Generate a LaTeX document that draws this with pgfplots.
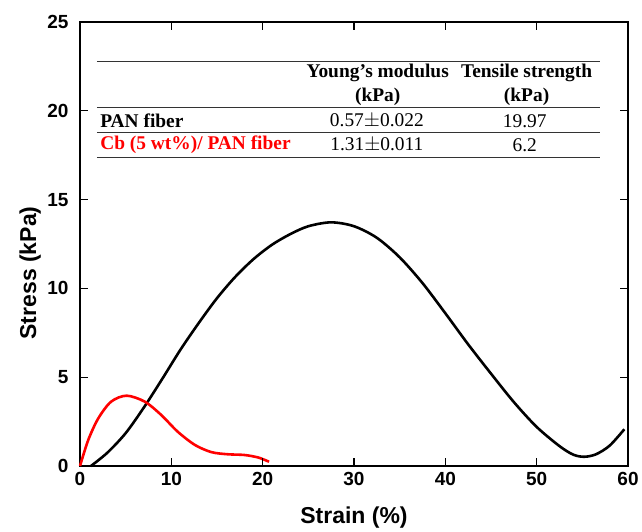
\documentclass[border=0pt]{standalone}
\usepackage{fontspec}
\usepackage{pgfplots}
\pgfplotsset{compat=1.18}
\setmainfont{Liberation Serif}
\newfontfamily\arial{Liberation Sans}
\definecolor{pureRed}{RGB}{255,0,0}

\begin{document}
\begin{tikzpicture}
\begin{axis}[
    width=548pt, height=444pt, scale only axis,
    xmin=0, xmax=60, ymin=0, ymax=25,
    xtick={0,10,20,30,40,50,60}, ytick={0,5,10,15,20,25},
    xticklabels={0,10,20,30,40,50,60},
    yticklabels={0,5,10,15,20,25},
    tick align=inside,
    major tick length=8pt,
    tick style={draw=black, line width=1.4pt},
    clip=false,
    ticklabel style={font=\arial\bfseries\fontsize{19}{19}\selectfont},
    xticklabel style={yshift=-3pt},
    yticklabel style={xshift=-8pt},
    label style={font=\arial\bfseries\fontsize{23}{23}\selectfont},
    xlabel={Strain (\%)},
    ylabel={Stress (kPa)},
    x label style={at={(axis description cs:0.5,-0.115)}, anchor=center},
    y label style={at={(axis description cs:-0.091,0.435)}, anchor=center},
    every outer x axis line/.append style={line width=1.4pt},
    every outer y axis line/.append style={line width=1.4pt},
]
\coordinate (bl) at (axis cs:0,0);
\coordinate (tr) at (axis cs:60,25);

% PAN fiber
\addplot[black, line width=2.6pt, smooth] coordinates {
 (1.2,0) (3.0,0.75) (5.0,1.85) (7.0,3.3) (9.0,4.9) (11.0,6.55)
 (13.0,8.05) (15.0,9.45) (17.0,10.65) (19.0,11.65) (21.0,12.45)
 (23.0,13.05) (25.0,13.5) (27.5,13.72) (30.0,13.5) (32.5,12.85)
 (35.0,11.75) (37.5,10.3) (40.0,8.6) (42.5,6.85) (45.0,5.2)
 (47.5,3.6) (50.0,2.2) (52.5,1.12) (54.0,0.64) (55.2,0.52)
 (56.5,0.66) (58.0,1.15) (59.6,2.07)
};
% Cb (5 wt%)/ PAN fiber
\addplot[pureRed, line width=2.6pt, smooth] coordinates {
 (0,0) (0.9,1.46) (2.0,2.68) (3.4,3.62) (5.1,3.96) (7.1,3.62)
 (8.9,2.87) (10.7,1.93) (12.6,1.18) (14.4,0.78) (16.2,0.66)
 (18.0,0.62) (19.5,0.48) (20.7,0.24)
};

% inward ticks on all four sides (8pt long)
\pgfplotsinvokeforeach{10,20,30,40,50}{
  \draw[line width=1.4pt, black] (axis cs:#1,0) -- (axis cs:#1,0.45);
  \draw[line width=1.4pt, black] (axis cs:#1,25) -- (axis cs:#1,24.55);
}
\pgfplotsinvokeforeach{5,10,15,20}{
  \draw[line width=1.4pt, black] (axis cs:0,#1) -- (axis cs:0.876,#1);
  \draw[line width=1.4pt, black] (axis cs:60,#1) -- (axis cs:59.124,#1);
}

% table
\draw[line width=0.8pt, black!80] (axis cs:1.86,22.80) -- (axis cs:56.94,22.80);
\draw[line width=0.8pt, black!80] (axis cs:1.86,20.21) -- (axis cs:56.94,20.21);
\draw[line width=0.8pt, black!80] (axis cs:1.86,18.81) -- (axis cs:56.94,18.81);
\draw[line width=0.8pt, black!80] (axis cs:1.86,17.40) -- (axis cs:56.94,17.40);
\begin{scope}[every node/.style={font=\fontsize{19.4}{19.4}\selectfont, inner sep=0pt}]
\node[font=\bfseries\fontsize{19.4}{19.4}\selectfont] at (axis cs:32.6,22.13) {Young's modulus};
\node[font=\bfseries\fontsize{19.4}{19.4}\selectfont] at (axis cs:32.6,20.78) {(kPa)};
\node[font=\bfseries\fontsize{19.4}{19.4}\selectfont] at (axis cs:48.9,22.13) {Tensile strength};
\node[font=\bfseries\fontsize{19.4}{19.4}\selectfont] at (axis cs:48.9,20.78) {(kPa)};
\node[font=\bfseries\fontsize{19.4}{19.4}\selectfont, anchor=west] at (axis cs:2.2,19.44) {PAN fiber};
\node[font=\bfseries\fontsize{19.4}{19.4}\selectfont, anchor=west, text=pureRed] at (axis cs:2.2,18.07) {Cb (5 wt\%)/ PAN fiber};
\node at (axis cs:32.5,19.44) {0.57$\pm$0.022};
\node at (axis cs:48.7,19.44) {19.97};
\node at (axis cs:32.5,18.07) {1.31$\pm$0.011};
\node at (axis cs:48.7,18.07) {6.2};
\end{scope}
\end{axis}
% page margins as in the reference
\path ([shift={(-80pt,-65pt)}]bl) rectangle ([shift={(14pt,22pt)}]tr);
\end{tikzpicture}
\end{document}
